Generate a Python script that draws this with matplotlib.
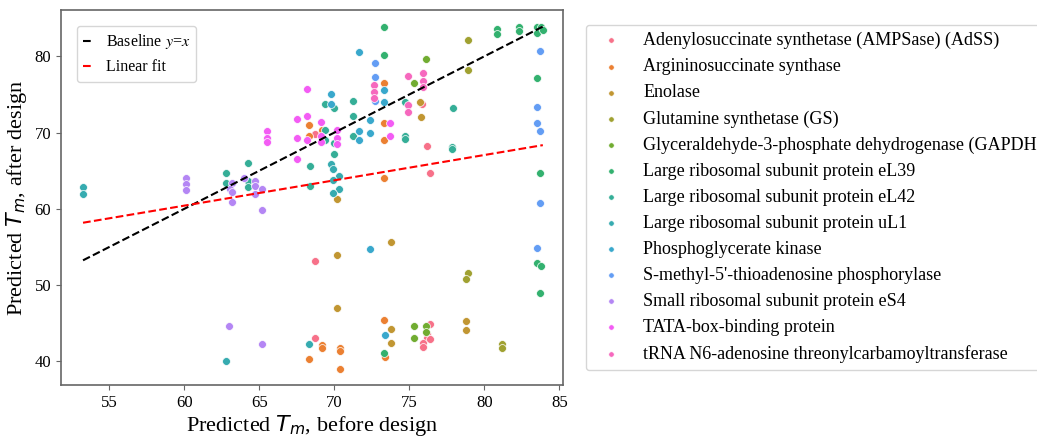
import numpy as np
import matplotlib.pyplot as plt
import seaborn as sns
from matplotlib.font_manager import FontProperties

plt.rcParams['font.family'] = ['Liberation Serif', 'DejaVu Serif']
plt.rcParams['mathtext.fontset'] = 'dejavusans'

# proteins (hue order)
proteins = [
    'Adenylosuccinate synthetase (AMPSase) (AdSS)',
    'Argininosuccinate synthase',
    'Enolase',
    'Glutamine synthetase (GS)',
    'Glyceraldehyde-3-phosphate dehydrogenase (GAPDH)',
    'Large ribosomal subunit protein eL39',
    'Large ribosomal subunit protein eL42',
    'Large ribosomal subunit protein uL1',
    'Phosphoglycerate kinase',
    "S-methyl-5'-thioadenosine phosphorylase",
    'Small ribosomal subunit protein eS4',
    'TATA-box-binding protein',
    'tRNA N6-adenosine threonylcarbamoyltransferase',
]

# (before, after) pairs
adss_x = [68.7, 75.85, 76.15, 76.4, 68.7, 68.7, 76.4, 76.2, 76.2, 75.9, 76.4, 75.9]
adss_y = [69.8, 73.7, 68.25, 64.7, 53.2, 43.1, 44.9, 43.55, 43.0, 42.45, 42.9, 41.85]

args_x = [68.33, 68.33, 69.15, 73.3, 73.3, 73.3, 73.3, 73.3, 73.4, 69.15, 69.15, 70.4, 70.4, 70.4, 68.3]
args_y = [71.0, 69.6, 70.4, 76.5, 71.2, 69.0, 64.1, 45.4, 40.55, 42.1, 41.7, 41.8, 41.4, 39.05, 40.3]

eno_x = [70.15, 75.7, 75.75, 73.8, 70.15, 70.15, 78.75, 78.75, 73.8, 73.8]
eno_y = [61.3, 74.0, 72.0, 55.6, 53.9, 47.05, 45.35, 44.1, 44.25, 42.45]

gs_x = [78.9, 78.9, 78.9, 78.75, 81.15, 81.15]
gs_y = [82.1, 78.2, 51.55, 50.8, 42.25, 41.75]

gapdh_x = [76.1, 75.3, 75.3, 76.1, 76.1, 75.3]
gapdh_y = [79.6, 76.5, 44.7, 44.6, 43.9, 43.0]

el39_x = [73.3, 73.3, 80.85, 80.85, 82.3, 82.3, 83.5, 83.8, 83.5, 83.9, 83.5, 83.7, 83.5, 83.8, 83.7, 73.3]
el39_y = [83.8, 80.2, 83.6, 82.9, 83.9, 83.3, 83.9, 83.9, 83.1, 83.5, 77.2, 64.65, 52.95, 52.5, 48.9, 41.1]

el42_x = [69.4, 70.0, 71.25, 71.25, 71.25, 74.7, 74.7, 74.7, 69.4, 69.4, 70.0, 70.0, 68.35, 68.35,
          77.9, 77.85, 77.85, 64.27, 62.8, 62.8, 64.27, 64.27]
el42_y = [73.75, 73.2, 74.2, 72.2, 69.55, 74.05, 69.5, 69.2, 70.4, 69.0, 68.7, 67.2, 65.6, 63.0,
          73.2, 68.15, 67.8, 66.0, 64.7, 63.4, 63.6, 62.8]

ul1_x = [53.25, 53.25, 69.8, 69.9, 70.3, 69.9, 70.3, 69.9, 68.3, 62.8]
ul1_y = [62.8, 62.0, 65.85, 65.2, 64.35, 63.8, 62.6, 62.05, 42.3, 40.0]

pgk_x = [69.8, 69.8, 72.4, 72.4, 71.65, 71.65, 73.3, 73.3, 71.65, 72.4, 73.35]
pgk_y = [75.0, 73.8, 71.7, 69.9, 70.2, 69.0, 75.6, 74.05, 80.6, 54.7, 43.4]

mtap_x = [72.7, 72.7, 72.7, 83.7, 83.5, 83.5, 83.7, 83.7, 83.5]
mtap_y = [79.1, 77.3, 74.2, 80.7, 73.3, 71.3, 70.25, 60.8, 54.9]

es4_x = [60.13, 60.13, 60.13, 64.0, 64.7, 63.15, 64.7, 63.03, 63.2, 65.2, 64.7, 63.2, 65.2, 63.0, 65.2]
es4_y = [64.0, 63.3, 62.5, 64.1, 63.7, 63.35, 63.0, 62.6, 62.25, 62.6, 61.9, 60.9, 59.85, 44.65, 42.25]

tata_x = [65.53, 65.53, 65.53, 68.2, 67.53, 68.2, 67.53, 68.2, 67.53, 69.1, 69.1, 69.1, 70.2, 70.2, 70.2, 73.7, 73.7]
tata_y = [70.25, 69.3, 68.8, 75.7, 71.8, 72.2, 69.25, 69.0, 66.6, 71.4, 69.55, 68.8, 70.4, 69.25, 68.45, 71.3, 69.5]

trna_x = [72.67, 72.67, 72.67, 74.9, 74.9, 74.9, 75.9, 75.9, 75.9]
trna_y = [76.2, 75.3, 74.5, 77.4, 73.6, 72.7, 77.85, 76.8, 76.0]

xs = [adss_x, args_x, eno_x, gs_x, gapdh_x, el39_x, el42_x, ul1_x, pgk_x, mtap_x, es4_x, tata_x, trna_x]
ys = [adss_y, args_y, eno_y, gs_y, gapdh_y, el39_y, el42_y, ul1_y, pgk_y, mtap_y, es4_y, tata_y, trna_y]

# linear fit
fit_slope = 0.332
fit_intercept = 40.5

colors = sns.color_palette('husl', len(proteins))

fig = plt.figure(figsize=(10.37, 4.37), dpi=100)
ax = fig.add_axes([0.0588, 0.119, 0.4842, 0.858])

handles = []
for name, x, y, c in zip(proteins, xs, ys, colors):
    h = ax.scatter(x, y, s=32, color=c, edgecolor='white', linewidth=0.5, label=name, zorder=2)
    handles.append(h)

all_x = np.concatenate([np.array(v) for v in xs])
xl = np.array([all_x.min(), all_x.max()])
l1, = ax.plot(xl, xl, '--', color='black', lw=1.5, label='Baseline $y$=$x$', zorder=3)
l2, = ax.plot(xl, fit_slope * xl + fit_intercept, '--', color='red', lw=1.5, label='Linear fit', zorder=3)

ax.set_xlim(51.78, 85.25)
ax.set_ylim(36.9, 86.07)
ax.set_xticks([55, 60, 65, 70, 75, 80, 85])
ax.set_yticks([40, 50, 60, 70, 80])
ax.tick_params(labelsize=12, color='0.4')
for s in ax.spines.values():
    s.set_color('0.4')
    s.set_linewidth(1.2)

ax.set_xlabel('Predicted $T_m$, before design', fontsize=16, labelpad=2)
ax.set_ylabel('Predicted $T_m$, after design', fontsize=16)

# small legend for the two lines, y=x in serif italics
p1 = FontProperties(family='Liberation Serif', size=11.5, math_fontfamily='stix')
leg1 = ax.legend(handles=[l1, l2], loc='upper left', prop=p1, handlelength=0.6,
                 borderaxespad=1.0)
ax.add_artist(leg1)

ax.legend(handles=handles, loc='upper left', bbox_to_anchor=(1.027, 0.985), fontsize=13,
          markerscale=0.7, borderaxespad=0.5, labelspacing=0.5)

fig.savefig('out.png', dpi=100)
